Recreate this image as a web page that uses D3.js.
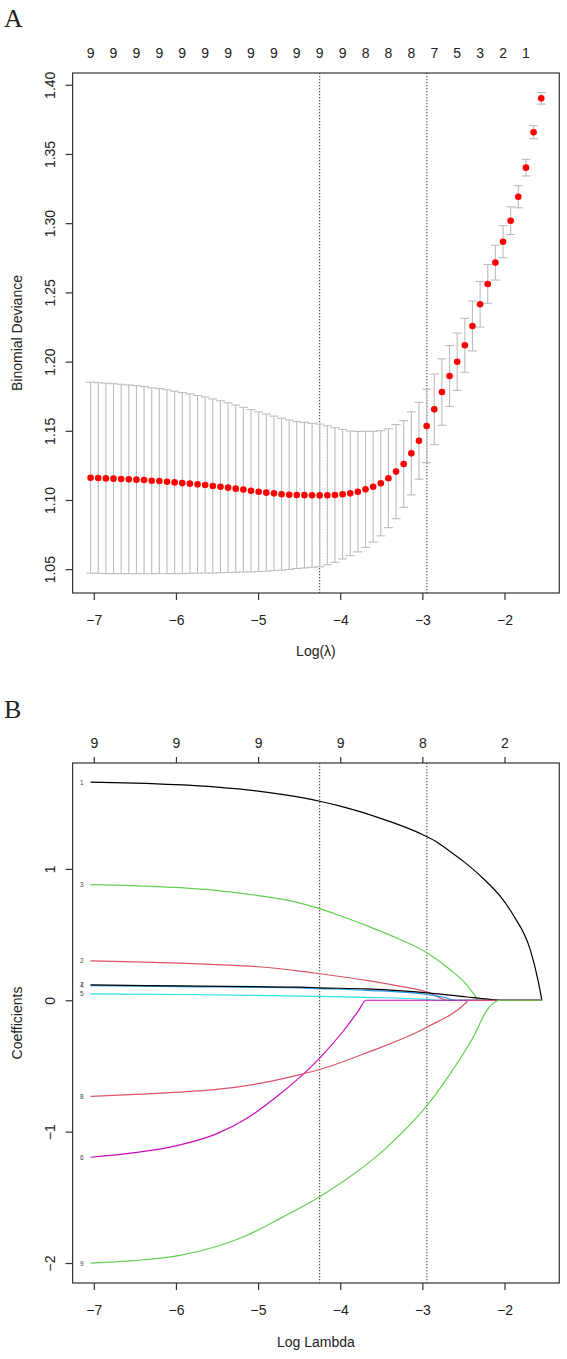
<!DOCTYPE html>
<html>
<head>
<meta charset="utf-8">
<script src="https://cdn.jsdelivr.net/npm/d3@7"></script>
<style>
  body { margin: 0; background: #fff; }
  text { font-family: "Liberation Sans", Arial, sans-serif; fill: #222; }
</style>
</head>
<body>
<div id="chart"></div>
<script>

// ---- data: cross-validation (panel A) ----
var logLambda = [-7.039, -6.946, -6.853, -6.760, -6.667, -6.574, -6.481, -6.388, -6.295, -6.202,
                 -6.109, -6.016, -5.923, -5.830, -5.737, -5.644, -5.551, -5.458, -5.365, -5.272,
                 -5.179, -5.086, -4.993, -4.900, -4.807, -4.714, -4.621, -4.529, -4.436, -4.343,
                 -4.250, -4.157, -4.064, -3.971, -3.878, -3.785, -3.692, -3.599, -3.506, -3.413,
                 -3.320, -3.227, -3.134, -3.041, -2.948, -2.855, -2.762, -2.669, -2.576, -2.483,
                 -2.390, -2.297, -2.204, -2.111, -2.018, -1.925, -1.832, -1.739, -1.646, -1.553];
var cvm = [1.1161, 1.1159, 1.1156, 1.1154, 1.1152, 1.1149, 1.1147, 1.1144, 1.1139, 1.1137,
           1.1132, 1.1127, 1.1122, 1.1118, 1.1113, 1.1108, 1.1101, 1.1096, 1.1089, 1.1082,
           1.1075, 1.1067, 1.1060, 1.1053, 1.1048, 1.1042, 1.1038, 1.1036, 1.1035, 1.1034,
           1.1033, 1.1034, 1.1036, 1.1042, 1.1048, 1.1060, 1.1077, 1.1096, 1.1121, 1.1157,
           1.1205, 1.1260, 1.1337, 1.1428, 1.1535, 1.1655, 1.1780, 1.1896, 1.1999, 1.2118,
           1.2257, 1.2414, 1.2561, 1.2715, 1.2866, 1.3018, 1.3191, 1.3401, 1.3657, 1.3902];
var cvsd = [0.0690, 0.0689, 0.0688, 0.0686, 0.0684, 0.0682, 0.0679, 0.0676, 0.0672, 0.0668,
            0.0664, 0.0659, 0.0654, 0.0648, 0.0642, 0.0636, 0.0629, 0.0621, 0.0613, 0.0604,
            0.0595, 0.0586, 0.0577, 0.0568, 0.0558, 0.0549, 0.0540, 0.0531, 0.0526, 0.0520,
            0.0516, 0.0502, 0.0486, 0.0468, 0.0450, 0.0435, 0.0420, 0.0400, 0.0380, 0.0357,
            0.0340, 0.0313, 0.0300, 0.0278, 0.0265, 0.0255, 0.0240, 0.0220, 0.0207, 0.0195,
            0.0180, 0.0165, 0.0140, 0.0126, 0.0116, 0.0100, 0.0080, 0.0060, 0.0047, 0.0042];
var nzero = [9, 9, 9, 9, 9, 9, 9, 9, 9, 9, 9, 9, 9, 9, 9, 9, 9, 9, 9, 9,
             9, 9, 9, 9, 9, 9, 9, 9, 9, 9, 9, 9, 9, 9, 9, 9, 8, 8, 8, 8,
             8, 8, 8, 8, 8, 7, 7, 6, 5, 5, 4, 3, 3, 2, 2, 2, 2, 1, 1, 0];
var devTicks = [1.05, 1.10, 1.15, 1.20, 1.25, 1.30, 1.35, 1.40];
var xTicks = [-7, -6, -5, -4, -3, -2];
var lambdaMin = -4.25;
var lambda1se = -2.945;

// ---- data: coefficient paths (panel B) ----
var coefTicks = [-2, -1, 0, 1];
var dfTicks = [9, 9, 9, 9, 8, 2];
var coef1 = [[-7.04,1.660],[-6.5,1.653],[-6.0,1.641],[-5.5,1.622],[-5.0,1.592],[-4.5,1.546],[-4.25,1.515],
             [-4.0,1.478],[-3.74,1.432],[-3.5,1.383],[-3.25,1.327],[-3.0,1.262],[-2.85,1.215],[-2.7,1.150],
             [-2.5,1.057],[-2.256,0.925],[-2.05,0.790],[-1.89,0.645],[-1.687,0.385],[-1.586,0.135],[-1.545,0]];
var coef2 = [[-7.04,0.300],[-6.5,0.293],[-5.95,0.283],[-5.5,0.272],[-5.0,0.255],[-4.49,0.222],[-4.25,0.202],
             [-3.68,0.151],[-3.3,0.110],[-2.94,0.062],[-2.68,0],[-1.545,0]];
var coef3 = [[-7.04,0.881],[-6.5,0.872],[-5.95,0.857],[-5.5,0.835],[-5.0,0.797],[-4.49,0.740],[-4.25,0.698],
             [-4.0,0.643],[-3.68,0.568],[-3.27,0.462],[-2.94,0.360],[-2.66,0.232],[-2.46,0.118],[-2.36,0.035],
             [-2.32,0],[-1.545,0]];
var coef4 = [[-7.04,0.112],[-5.95,0.104],[-4.49,0.094],[-4.25,0.089],[-3.68,0.076],[-2.94,0.044],[-2.75,0.025],
             [-2.6,0],[-1.545,0]];
var coef5 = [[-7.04,0.049],[-5.95,0.044],[-5.0,0.037],[-4.25,0.030],[-3.68,0.022],[-2.94,0.007],[-2.78,0],[-1.545,0]];
var coef6 = [[-7.04,-1.195],[-6.5,-1.160],[-6.0,-1.108],[-5.5,-1.015],[-5.14,-0.900],[-4.73,-0.712],[-4.49,-0.585],
             [-4.25,-0.440],[-3.96,-0.232],[-3.78,-0.082],[-3.685,0],[-1.545,0]];
var coef7 = [[-7.04,0.117],[-5.95,0.109],[-4.49,0.100],[-4.25,0.095],[-3.68,0.086],[-2.94,0.057],[-2.46,0.025],
             [-2.2,0.008],[-2.05,0],[-1.545,0]];
var coef8 = [[-7.04,-0.731],[-6.5,-0.716],[-5.95,-0.699],[-5.5,-0.678],[-5.14,-0.650],[-4.49,-0.566],[-4.25,-0.527],
             [-3.68,-0.400],[-2.94,-0.204],[-2.46,-0.013],[-2.44,0],[-1.545,0]];
var coef9 = [[-7.04,-2.000],[-6.52,-1.982],[-5.95,-1.942],[-5.54,-1.880],[-5.14,-1.790],[-4.73,-1.660],[-4.25,-1.495],
             [-3.47,-1.141],[-2.94,-0.799],[-2.66,-0.558],[-2.38,-0.279],[-2.215,-0.077],[-2.154,-0.031],[-2.05,0],[-1.545,0]];
var coefColors = ["#000000", "#DF536B", "#61D04F", "#2297E6", "#28E2E5", "#CD0BBC", "#000000", "#DF536B", "#61D04F"];

var width = 567;
var height = 1359;

var svg = d3.select("#chart")
    .append("svg")
    .attr("width", width)
    .attr("height", height);

var left = 72.6, right = 559.3;
var fs = "14px";

// shared bits
function frame(top, bottom) {
  svg.append("rect")
      .attr("x", left).attr("y", top)
      .attr("width", right - left).attr("height", bottom - top)
      .attr("fill", "none").attr("stroke", "#333").attr("stroke-width", 1.2);
}

function dotted(x, top, bottom) {
  svg.append("line")
      .attr("x1", x).attr("x2", x).attr("y1", top).attr("y2", bottom)
      .attr("stroke", "#333").attr("stroke-width", 1)
      .attr("stroke-dasharray", "1.3,1.7");
}

function styleAxis(g) {
  g.select(".domain").remove();
  g.selectAll(".tick line").attr("stroke", "#333").attr("stroke-width", 1.2);
  g.selectAll(".tick text").style("font-size", fs).attr("fill", "#222");
}

function bottomAxis(x, bottom) {
  var g = svg.append("g")
      .attr("transform", "translate(0," + bottom + ")")
      .call(d3.axisBottom(x).tickValues(xTicks).tickSize(7).tickFormat(d3.format("d")));
  styleAxis(g);
  g.selectAll(".tick text").attr("y", 26.7).attr("dy", null).attr("dominant-baseline", "central");
}

function leftAxis(y, vals, fmt) {
  var g = svg.append("g")
      .attr("transform", "translate(" + left + ",0)")
      .call(d3.axisLeft(y).tickValues(vals).tickSize(7).tickFormat(fmt));
  styleAxis(g);
  g.selectAll(".tick text")
      .attr("transform", "rotate(-90)")
      .attr("x", 0).attr("y", -22.6).attr("dy", null)
      .attr("text-anchor", "middle")
      .attr("dominant-baseline", "central");
}

function panelLetter(txt, y) {
  svg.append("text")
      .attr("x", 4).attr("y", y)
      .style("font-family", "'Liberation Serif', 'Times New Roman', serif")
      .style("font-size", "26px")
      .text(txt);
}

function yTitle(txt, midY) {
  svg.append("text")
      .attr("transform", "translate(17," + midY + ") rotate(-90)")
      .attr("text-anchor", "middle")
      .attr("dominant-baseline", "central")
      .style("font-size", fs)
      .text(txt);
}

function xTitle(txt, y) {
  svg.append("text")
      .attr("x", (left + right) / 2).attr("y", y)
      .attr("text-anchor", "middle")
      .attr("dominant-baseline", "central")
      .style("font-size", fs)
      .text(txt);
}

// ================= Panel A =================
var topA = 73, bottomA = 593;
var xA = d3.scaleLinear().domain([-7.258, -1.333]).range([left, right]);
var yA = d3.scaleLinear().domain([1.0328, 1.4085]).range([bottomA, topA]);

panelLetter("A", 27);

dotted(xA(lambdaMin), topA, bottomA);
dotted(xA(lambda1se), topA, bottomA);

var bars = svg.append("g")
    .attr("stroke", "#bdbdbd")
    .attr("stroke-width", 1.1);

var cw = 4.5;
logLambda.forEach(function(lx, i) {
  var x = xA(lx);
  var yu = yA(cvm[i] + cvsd[i]);
  var yl = yA(cvm[i] - cvsd[i]);
  bars.append("line").attr("x1", x).attr("x2", x).attr("y1", yu).attr("y2", yl);
  bars.append("line").attr("x1", x - cw).attr("x2", x + cw).attr("y1", yu).attr("y2", yu);
  bars.append("line").attr("x1", x - cw).attr("x2", x + cw).attr("y1", yl).attr("y2", yl);
});

svg.append("g")
    .selectAll("circle")
    .data(logLambda)
    .enter()
    .append("circle")
    .attr("cx", function(d) { return xA(d); })
    .attr("cy", function(d, i) { return yA(cvm[i]); })
    .attr("r", 3.3)
    .attr("fill", "#ff0000");

frame(topA, bottomA);
bottomAxis(xA, bottomA);
leftAxis(yA, devTicks, d3.format(".2f"));

// number of non-zero coefficients, every third label fits
svg.append("g")
    .selectAll("text")
    .data(nzero.filter(function(d, i) { return i % 3 === 0; }))
    .enter()
    .append("text")
    .attr("x", function(d, k) { return xA(logLambda[k * 3]); })
    .attr("y", topA - 20)
    .attr("text-anchor", "middle")
    .attr("dominant-baseline", "central")
    .style("font-size", fs)
    .text(function(d) { return d; });

yTitle("Binomial Deviance", (topA + bottomA) / 2);
xTitle("Log(\u03bb)", 651);

// ================= Panel B =================
var topB = 763, bottomB = 1283;
var xB = d3.scaleLinear().domain([-7.258, -1.333]).range([left, right]);
var yB = d3.scaleLinear().domain([-2.152, 1.806]).range([bottomB, topB]);

panelLetter("B", 718);

dotted(xB(lambdaMin), topB, bottomB);
dotted(xB(lambda1se), topB, bottomB);

var path = d3.line()
    .x(function(d) { return xB(d[0]); })
    .y(function(d) { return yB(d[1]); })
    .curve(d3.curveMonotoneX);

var coefPaths = [coef1, coef2, coef3, coef4, coef5, coef6, coef7, coef8, coef9];

svg.append("g")
    .selectAll("path")
    .data(coefPaths)
    .enter()
    .append("path")
    .attr("fill", "none")
    .attr("stroke", function(d, i) { return coefColors[i]; })
    .attr("stroke-width", 1.2)
    .attr("d", path);

svg.append("g")
    .selectAll("text")
    .data(coefPaths)
    .enter()
    .append("text")
    .attr("x", xB(coef1[0][0]) - 7)
    .attr("y", function(d) { return yB(d[0][1]); })
    .attr("text-anchor", "end")
    .attr("dominant-baseline", "central")
    .style("font-size", "6.5px")
    .style("fill", "#444")
    .text(function(d, i) { return i + 1; });

frame(topB, bottomB);
bottomAxis(xB, bottomB);
leftAxis(yB, coefTicks, d3.format("d"));

var gTop = svg.append("g")
    .attr("transform", "translate(0," + topB + ")")
    .call(d3.axisTop(xB).tickValues(xTicks).tickSize(6)
      .tickFormat(function(d, i) { return dfTicks[i]; }));
styleAxis(gTop);
gTop.selectAll(".tick text").attr("y", -20).attr("dy", null).attr("dominant-baseline", "central");

yTitle("Coefficients", (topB + bottomB) / 2);
xTitle("Log Lambda", 1342);

</script>
</body>
</html>
